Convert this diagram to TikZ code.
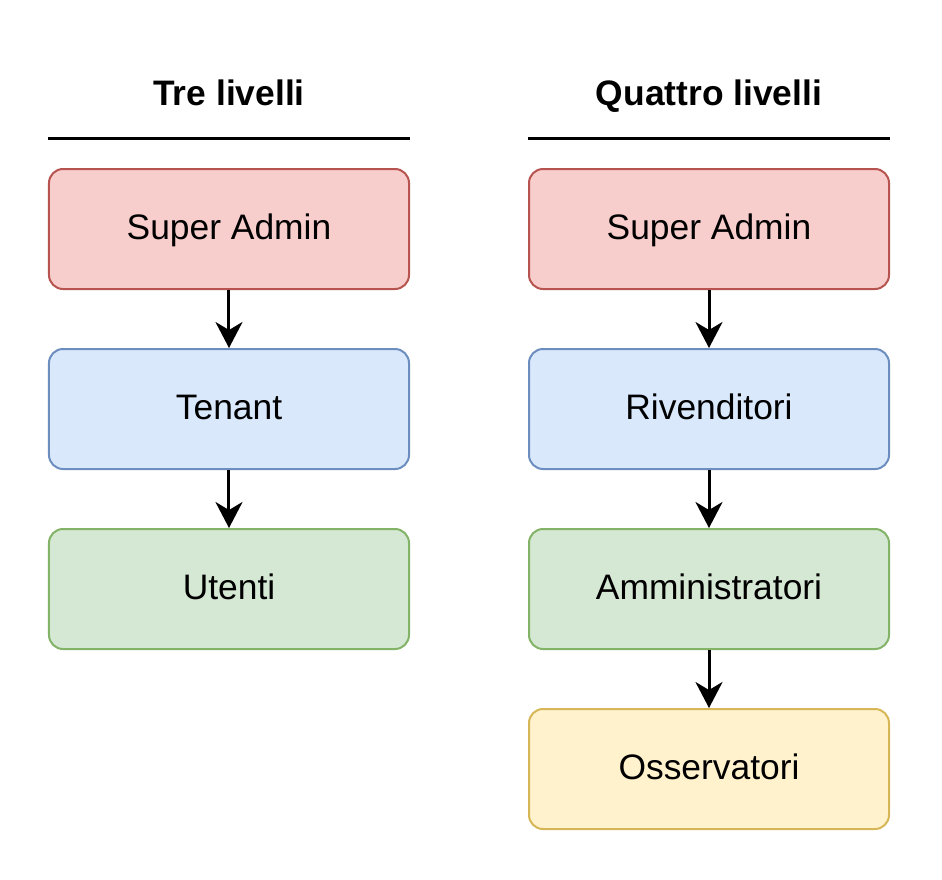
\documentclass[tikz,border=0pt]{standalone}
\usepackage{fontspec}
\setmainfont{Liberation Sans}
\usetikzlibrary{positioning, arrows.meta}
\definecolor{redfill}{HTML}{F8CECC}
\definecolor{redline}{HTML}{B85450}
\definecolor{bluefill}{HTML}{DAE8FC}
\definecolor{blueline}{HTML}{6C8EBF}
\definecolor{greenfill}{HTML}{D5E8D4}
\definecolor{greenline}{HTML}{82B366}
\definecolor{yellowfill}{HTML}{FFF2CC}
\definecolor{yellowline}{HTML}{D6B656}
\tikzstyle{level} = [rectangle, rounded corners=7pt, minimum width=180pt, minimum height=60pt, text centered, line width=1pt, text height=13.5pt, text depth=3.5pt, font=\fontsize{17.7}{21}\selectfont]
\tikzstyle{redbox} = [level, draw=redline, fill=redfill]
\tikzstyle{bluebox} = [level, draw=blueline, fill=bluefill]
\tikzstyle{greenbox} = [level, draw=greenline, fill=greenfill]
\tikzstyle{yellowbox} = [level, draw=yellowline, fill=yellowfill]
\tikzstyle{heading} = [text height=15pt, text depth=3pt, font=\fontsize{17.7}{21}\selectfont\bfseries]
\tikzstyle{rule} = [line width=1.5pt]
\tikzstyle{arrow} = [line width=1.5pt, -{Stealth[length=13pt, width=13.5pt, inset=4pt]}]

\begin{document}
\begin{tikzpicture}[node distance=90pt]
            \useasboundingbox (-114.5pt,-325pt) rectangle (356.5pt,114.5pt);
            % tre livelli
            \node (admin1) [redbox] {Super Admin};
            \node (tenant) [bluebox, below of=admin1] {Tenant};
            \node (utenti) [greenbox, below of=tenant] {Utenti};
            \node (title1) [heading, above of=admin1, yshift=-22pt] {Tre livelli};

            % quattro livelli
            \node (admin2) [redbox, right of=admin1, xshift=150pt] {Super Admin};
            \node (rivend) [bluebox, below of=admin2] {Rivenditori};
            \node (ammin) [greenbox, below of=rivend] {Amministratori};
            \node (osserv) [yellowbox, below of=ammin] {Osservatori};
            \node (title2) [heading, above of=admin2, yshift=-22pt] {Quattro livelli};

            \draw [rule] ([yshift=15pt]admin1.north west) -- ([yshift=15pt]admin1.north east);
            \draw [rule] ([yshift=15pt]admin2.north west) -- ([yshift=15pt]admin2.north east);

            \draw [arrow] (admin1) -- (tenant);
            \draw [arrow] (tenant) -- (utenti);
            \draw [arrow] (admin2) -- (rivend);
            \draw [arrow] (rivend) -- (ammin);
            \draw [arrow] (ammin) -- (osserv);
        \end{tikzpicture}
\end{document}
